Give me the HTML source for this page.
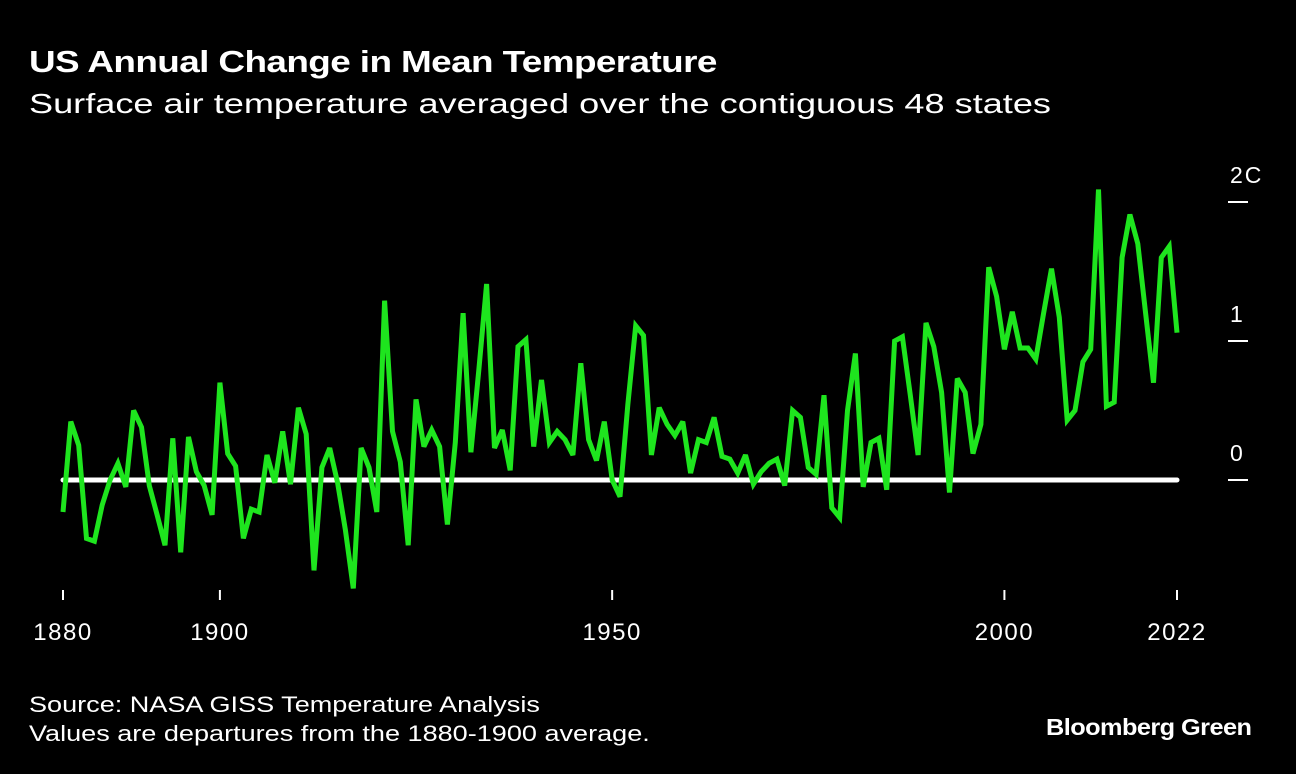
<!DOCTYPE html>
<html><head><meta charset="utf-8"><style>
body{margin:0;background:#000;width:1296px;height:774px;overflow:hidden;font-family:"Liberation Sans",sans-serif;color:#fff}
.t{position:absolute;left:29px;top:44px;font-size:31px;font-weight:bold;letter-spacing:-0.5px;transform:scaleX(1.19);transform-origin:left top;white-space:nowrap}
.s{position:absolute;left:29px;top:88px;font-size:28px;transform:scaleX(1.29);transform-origin:left top;white-space:nowrap}
.src{position:absolute;left:29px;top:690px;font-size:22px;line-height:29px;transform:scaleX(1.23);transform-origin:left top;white-space:nowrap}
.brand{position:absolute;left:1046px;top:714px;font-size:23px;font-weight:bold;letter-spacing:-0.5px;transform:scaleX(1.1);transform-origin:left top;white-space:nowrap}
</style></head><body>
<div class="t">US Annual Change in Mean Temperature</div>
<div class="s">Surface air temperature averaged over the contiguous 48 states</div>
<svg id="c" width="1296" height="774" style="position:absolute;left:0;top:0"></svg>
<div class="src">Source: NASA GISS Temperature Analysis<br>Values are departures from the 1880-1900 average.</div>
<div class="brand">Bloomberg Green</div>
<script>
const startYear = 1880;
const values = [-0.23,0.42,0.25,-0.42,-0.44,-0.18,0,0.12,-0.05,0.5,0.38,-0.04,-0.25,-0.47,0.30,-0.52,0.31,0.06,-0.04,-0.25,
0.70,0.19,0.10,-0.42,-0.21,-0.23,0.18,-0.02,0.35,-0.03,0.52,0.33,-0.65,0.09,0.23,-0.02,-0.36,-0.78,0.23,0.09,
-0.23,1.29,0.35,0.13,-0.47,0.58,0.24,0.36,0.24,-0.32,0.27,1.20,0.20,0.79,1.41,0.23,0.36,0.07,0.96,1.01,
0.24,0.72,0.27,0.35,0.29,0.18,0.84,0.29,0.14,0.42,0.0,-0.12,0.54,1.11,1.04,0.18,0.52,0.40,0.32,0.42,
0.05,0.29,0.27,0.45,0.17,0.15,0.05,0.18,-0.03,0.06,0.12,0.15,-0.04,0.50,0.45,0.09,0.04,0.61,-0.20,-0.27,
0.50,0.91,-0.05,0.27,0.30,-0.07,1.00,1.03,0.61,0.18,1.13,0.96,0.63,-0.09,0.73,0.63,0.19,0.40,1.53,1.32,
0.94,1.21,0.95,0.95,0.87,1.20,1.52,1.17,0.43,0.50,0.85,0.94,2.09,0.53,0.56,1.60,1.91,1.70,1.20,0.70,1.60,1.68,1.06];
const xTicks = [1880,1900,1950,2000,2022];
const yTicks = [0,1,2];
const yTickLabels = ["0","1","2C"];
const svg = document.getElementById('c');
const NS = 'http://www.w3.org/2000/svg';
const x = yr => 63 + (yr-1880)*(1177-63)/142;
const y = v => 480 - v*139;
function mk(tag, attrs){const e=document.createElementNS(NS,tag);for(const k in attrs)e.setAttribute(k,attrs[k]);svg.appendChild(e);return e;}
yTicks.forEach((t,i)=>{
  const l=mk('line',{x1:1228,x2:1248,y1:y(t),y2:y(t),stroke:'#fff','stroke-width':2});
  
  
  const tx=mk('text',{x:1230,y:y(t)-19,fill:'#fff','font-size':23,'letter-spacing':2,'font-family':'Liberation Sans'});
  tx.textContent=yTickLabels[i];
  
  
});
xTicks.forEach(t=>{
  const l=mk('line',{x1:x(t),x2:x(t),y1:590,y2:600,stroke:'#fff','stroke-width':2});
  
  
  const tx=mk('text',{x:x(t),y:640,fill:'#fff','font-size':24,'letter-spacing':1.5,'text-anchor':'middle','font-family':'Liberation Sans'});
  tx.textContent=t;
  
  
});
const z=mk('line',{x1:x(1880),x2:x(2022),y1:y(0),y2:y(0),stroke:'#fff','stroke-width':5,'stroke-linecap':'round'});


const pts=values.map((v,i)=>x(startYear+i).toFixed(1)+','+y(v).toFixed(1)).join(' ');
const p=mk('polyline',{points:pts,fill:'none',stroke:'#1ee51e','stroke-width':5,'stroke-linejoin':'miter','stroke-miterlimit':3});


</script>
</body></html>
